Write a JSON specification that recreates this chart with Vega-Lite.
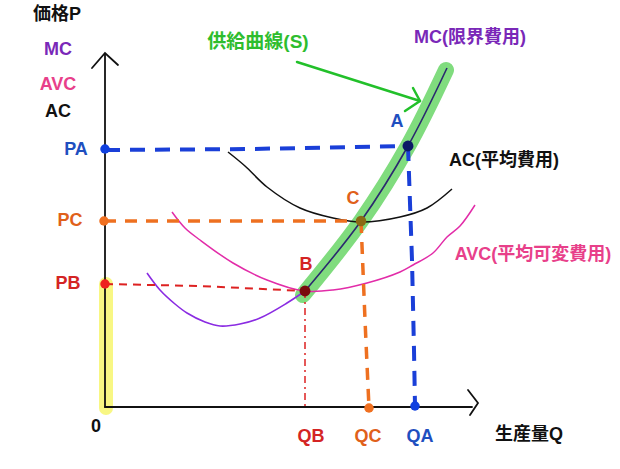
{
  "$schema": "https://vega.github.io/schema/vega-lite/v6.json",
  "width": 620,
  "height": 469,
  "autosize": {"type": "fit", "contains": "padding"},
  "padding": 0,
  "background": "white",
  "config": {"view": {"stroke": null}},
  "datasets": {
    "lines": [
      {"id": "hl_y", "k": 1, "q": 0.1, "p": 12.3}, {"id": "hl_y", "k": 2, "q": 0.1, "p": -0.1},
      {"id": "hl_s", "k": 1, "q": 19.8, "p": 11.2}, {"id": "hl_s", "k": 2, "q": 25.6, "p": 18.6}, {"id": "hl_s", "k": 3, "q": 30.3, "p": 26.1}, {"id": "hl_s", "k": 4, "q": 34.1, "p": 33.7},
      {"id": "ax_y", "k": 1, "q": 0, "p": 0}, {"id": "ax_y", "k": 2, "q": 0, "p": 35.3},
      {"id": "ar_y", "k": 1, "q": -1.3, "p": 33.9}, {"id": "ar_y", "k": 2, "q": 0, "p": 35.4}, {"id": "ar_y", "k": 3, "q": 1.3, "p": 34.2},
      {"id": "ax_x", "k": 1, "q": 0, "p": 0}, {"id": "ax_x", "k": 2, "q": 36.7, "p": 0},
      {"id": "ar_x", "k": 1, "q": 36.3, "p": 1.7}, {"id": "ar_x", "k": 2, "q": 37.3, "p": 0.4}, {"id": "ar_x", "k": 3, "q": 36.5, "p": -0.8},
      {"id": "AC", "k": 1, "q": 12.3, "p": 25.5}, {"id": "AC", "k": 2, "q": 14.0, "p": 24.1}, {"id": "AC", "k": 3, "q": 16.2, "p": 22.0}, {"id": "AC", "k": 4, "q": 19.5, "p": 19.9}, {"id": "AC", "k": 5, "q": 22.8, "p": 18.9}, {"id": "AC", "k": 6, "q": 25.6, "p": 18.5}, {"id": "AC", "k": 7, "q": 29.5, "p": 19.0}, {"id": "AC", "k": 8, "q": 32.2, "p": 19.9}, {"id": "AC", "k": 9, "q": 34.7, "p": 21.8},
      {"id": "AVC", "k": 1, "q": 6.7, "p": 19.5}, {"id": "AVC", "k": 2, "q": 8.0, "p": 17.9}, {"id": "AVC", "k": 3, "q": 9.5, "p": 16.7}, {"id": "AVC", "k": 4, "q": 12.8, "p": 14.4}, {"id": "AVC", "k": 5, "q": 16.2, "p": 12.7}, {"id": "AVC", "k": 6, "q": 19.9, "p": 11.6}, {"id": "AVC", "k": 7, "q": 22.8, "p": 11.7}, {"id": "AVC", "k": 8, "q": 26.2, "p": 12.4}, {"id": "AVC", "k": 9, "q": 29.5, "p": 13.5}, {"id": "AVC", "k": 10, "q": 30.8, "p": 14.2}, {"id": "AVC", "k": 11, "q": 32.8, "p": 15.4}, {"id": "AVC", "k": 12, "q": 34.2, "p": 17.0}, {"id": "AVC", "k": 13, "q": 35.5, "p": 18.1}, {"id": "AVC", "k": 14, "q": 37.0, "p": 20.2},
      {"id": "MC_lo", "k": 1, "q": 4.2, "p": 13.4}, {"id": "MC_lo", "k": 2, "q": 5.5, "p": 11.7}, {"id": "MC_lo", "k": 3, "q": 7.0, "p": 10.3}, {"id": "MC_lo", "k": 4, "q": 8.2, "p": 9.4}, {"id": "MC_lo", "k": 5, "q": 10.0, "p": 8.5}, {"id": "MC_lo", "k": 6, "q": 11.5, "p": 8.1}, {"id": "MC_lo", "k": 7, "q": 13.5, "p": 8.3}, {"id": "MC_lo", "k": 8, "q": 15.5, "p": 8.9}, {"id": "MC_lo", "k": 9, "q": 18.2, "p": 10.4}, {"id": "MC_lo", "k": 10, "q": 20.0, "p": 11.6},
      {"id": "MC_hi", "k": 1, "q": 20.0, "p": 11.6}, {"id": "MC_hi", "k": 2, "q": 25.6, "p": 18.6}, {"id": "MC_hi", "k": 3, "q": 30.3, "p": 26.1}, {"id": "MC_hi", "k": 4, "q": 34.2, "p": 33.9},
      {"id": "PA_h", "k": 1, "q": 0, "p": 25.7}, {"id": "PA_h", "k": 2, "q": 14.5, "p": 25.8}, {"id": "PA_h", "k": 3, "q": 30.3, "p": 26.1},
      {"id": "QA_v", "k": 1, "q": 30.3, "p": 26.1}, {"id": "QA_v", "k": 2, "q": 30.7, "p": 14.7}, {"id": "QA_v", "k": 3, "q": 30.9, "p": 5.7}, {"id": "QA_v", "k": 4, "q": 31.0, "p": 0.1},
      {"id": "PC_h", "k": 1, "q": -0.1, "p": 18.6}, {"id": "PC_h", "k": 2, "q": 25.6, "p": 18.6},
      {"id": "QC_v", "k": 1, "q": 25.6, "p": 18.6}, {"id": "QC_v", "k": 2, "q": 26.0, "p": 8.7}, {"id": "QC_v", "k": 3, "q": 26.4, "p": -0.1},
      {"id": "PB_h", "k": 1, "q": 0, "p": 12.3}, {"id": "PB_h", "k": 2, "q": 9.5, "p": 12.1}, {"id": "PB_h", "k": 3, "q": 20.0, "p": 11.6},
      {"id": "QB_v", "k": 1, "q": 20.0, "p": 11.6}, {"id": "QB_v", "k": 2, "q": 20.0, "p": -0.1},
      {"id": "s_ar", "k": 1, "q": 19.2, "p": 34.5}, {"id": "s_ar", "k": 2, "q": 31.5, "p": 30.6},
      {"id": "s_head", "k": 1, "q": 30.8, "p": 31.9}, {"id": "s_head", "k": 2, "q": 31.5, "p": 30.6}, {"id": "s_head", "k": 3, "q": 30.0, "p": 29.6}
    ],
    "points": [
      {"id": "A", "q": 30.3, "p": 26.1}, {"id": "C", "q": 25.6, "p": 18.6}, {"id": "B", "q": 20.0, "p": 11.6},
      {"id": "PA", "q": 0, "p": 25.8}, {"id": "PC", "q": -0.1, "p": 18.6}, {"id": "PB", "q": 0, "p": 12.3},
      {"id": "QC", "q": 26.4, "p": -0.1}, {"id": "QA", "q": 31.0, "p": 0.1}
    ],
    "labels": [
      {"text": "価格P", "g": "axis", "q": -4.8, "p": 39.2},
      {"text": "MC", "g": "MC", "q": -4.7, "p": 35.7},
      {"text": "AVC", "g": "AVC", "q": -4.7, "p": 32.2},
      {"text": "AC", "g": "axis", "q": -4.7, "p": 29.5},
      {"text": "PA", "g": "A", "q": -2.9, "p": 25.7},
      {"text": "PC", "g": "C", "q": -3.5, "p": 18.6},
      {"text": "PB", "g": "B", "q": -3.7, "p": 12.3},
      {"text": "0", "g": "axis", "q": -0.9, "p": -2.0},
      {"text": "QB", "g": "B", "q": 20.6, "p": -3.0},
      {"text": "QC", "g": "C", "q": 26.3, "p": -3.0},
      {"text": "QA", "g": "A", "q": 31.5, "p": -3.0},
      {"text": "生産量Q", "g": "axis", "q": 42.4, "p": -2.8},
      {"text": "MC(限界費用)", "g": "MC", "q": 36.5, "p": 36.9},
      {"text": "A", "g": "A", "q": 29.2, "p": 28.5},
      {"text": "AC(平均費用)", "g": "axis", "q": 39.9, "p": 24.6},
      {"text": "C", "g": "C", "q": 24.8, "p": 20.8},
      {"text": "AVC(平均可変費用)", "g": "AVC", "q": 42.8, "p": 15.2},
      {"text": "B", "g": "B", "q": 20.1, "p": 14.2}
    ]
  },
  "encoding": {
    "x": {"field": "q", "type": "quantitative", "scale": {"domain": [-10.5, 51.5], "nice": false, "zero": false}, "axis": null},
    "y": {"field": "p", "type": "quantitative", "scale": {"domain": [-6.2, 40.7], "nice": false, "zero": false}, "axis": null}
  },
  "layer": [
    {"data": {"name": "lines"}, "transform": [{"filter": "datum.id == 'hl_y'"}], "mark": {"type": "line", "color": "#f7f676", "strokeWidth": 14, "strokeCap": "round", "opacity": 0.9}, "encoding": {"order": {"field": "k"}}},
    {"data": {"name": "lines"}, "transform": [{"filter": "datum.id == 'hl_s'"}], "mark": {"type": "line", "color": "#80dc7e", "strokeWidth": 16, "strokeCap": "round", "strokeJoin": "round", "interpolate": "catmull-rom"}, "encoding": {"order": {"field": "k"}}},
    {"data": {"name": "lines"}, "transform": [{"filter": "indexof(['ax_y','ar_y','ax_x','ar_x'], datum.id) >= 0"}], "mark": {"type": "line", "color": "#111111", "strokeWidth": 1.8, "strokeCap": "round"}, "encoding": {"order": {"field": "k"}, "detail": {"field": "id"}}},
    {"data": {"name": "lines"}, "transform": [{"filter": "datum.id == 'AC'"}], "mark": {"type": "line", "color": "#111111", "strokeWidth": 1.5, "interpolate": "catmull-rom"}, "encoding": {"order": {"field": "k"}}},
    {"data": {"name": "lines"}, "transform": [{"filter": "datum.id == 'AVC'"}], "mark": {"type": "line", "color": "#e22ca8", "strokeWidth": 1.5, "interpolate": "catmull-rom"}, "encoding": {"order": {"field": "k"}}},
    {"data": {"name": "lines"}, "transform": [{"filter": "datum.id == 'MC_lo'"}], "mark": {"type": "line", "color": "#8a2be2", "strokeWidth": 1.6, "interpolate": "catmull-rom"}, "encoding": {"order": {"field": "k"}}},
    {"data": {"name": "lines"}, "transform": [{"filter": "datum.id == 'MC_hi'"}], "mark": {"type": "line", "color": "#2b2a6e", "strokeWidth": 1.6, "interpolate": "catmull-rom"}, "encoding": {"order": {"field": "k"}}},
    {"data": {"name": "lines"}, "transform": [{"filter": "datum.id == 'PA_h' || datum.id == 'QA_v'"}], "mark": {"type": "line", "color": "#1a3fd8", "strokeWidth": 4, "strokeDash": [15, 10]}, "encoding": {"order": {"field": "k"}, "detail": {"field": "id"}}},
    {"data": {"name": "lines"}, "transform": [{"filter": "datum.id == 'PC_h' || datum.id == 'QC_v'"}], "mark": {"type": "line", "color": "#ee7020", "strokeWidth": 3.5, "strokeDash": [12, 9]}, "encoding": {"order": {"field": "k"}, "detail": {"field": "id"}}},
    {"data": {"name": "lines"}, "transform": [{"filter": "datum.id == 'PB_h'"}], "mark": {"type": "line", "color": "#dd2222", "strokeWidth": 2, "strokeDash": [8, 6]}, "encoding": {"order": {"field": "k"}}},
    {"data": {"name": "lines"}, "transform": [{"filter": "datum.id == 'QB_v'"}], "mark": {"type": "line", "color": "#dd2222", "strokeWidth": 1.5, "strokeDash": [7, 4, 2, 4]}, "encoding": {"order": {"field": "k"}}},
    {"data": {"name": "lines"}, "transform": [{"filter": "datum.id == 's_ar' || datum.id == 's_head'"}], "mark": {"type": "line", "color": "#22c02a", "strokeWidth": 2.5, "strokeCap": "round", "strokeJoin": "round"}, "encoding": {"order": {"field": "k"}, "detail": {"field": "id"}}},
    {"data": {"name": "points"}, "transform": [{"filter": "datum.id == 'A'"}], "mark": {"type": "circle", "color": "#0b1a66", "size": 120, "opacity": 1}},
    {"data": {"name": "points"}, "transform": [{"filter": "datum.id == 'C'"}], "mark": {"type": "circle", "color": "#8a6a14", "size": 110, "opacity": 1}},
    {"data": {"name": "points"}, "transform": [{"filter": "datum.id == 'B'"}], "mark": {"type": "circle", "color": "#7a0c0c", "size": 120, "opacity": 1}},
    {"data": {"name": "points"}, "transform": [{"filter": "datum.id == 'PA' || datum.id == 'QA'"}], "mark": {"type": "circle", "color": "#1040e0", "size": 90, "opacity": 1}},
    {"data": {"name": "points"}, "transform": [{"filter": "datum.id == 'PC' || datum.id == 'QC'"}], "mark": {"type": "circle", "color": "#f07020", "size": 90, "opacity": 1}},
    {"data": {"name": "points"}, "transform": [{"filter": "datum.id == 'PB'"}], "mark": {"type": "circle", "color": "#ee2020", "size": 90, "opacity": 1}},
    {"data": {"name": "labels"}, "mark": {"type": "text", "font": "Liberation Sans, Noto Sans CJK JP", "fontWeight": "bold", "fontSize": 18, "align": "center", "baseline": "middle"},
     "encoding": {"text": {"field": "text"}, "color": {"field": "g", "type": "nominal", "legend": null, "scale": {"domain": ["axis", "MC", "AVC", "A", "B", "C", "S"], "range": ["#111111", "#7a28b8", "#e8408a", "#1f4fbf", "#d42424", "#e0601a", "#2ebd2e"]}}}},
    {"data": {"values": [{"text": "供給曲線(S)", "g": "S", "q": 15.3, "p": 36.5}]}, "mark": {"type": "text", "font": "Liberation Sans, Noto Sans CJK JP", "fontWeight": "bold", "fontSize": 19, "align": "center", "baseline": "middle"},
     "encoding": {"text": {"field": "text"}, "color": {"field": "g", "type": "nominal", "legend": null}}}
  ]
}
